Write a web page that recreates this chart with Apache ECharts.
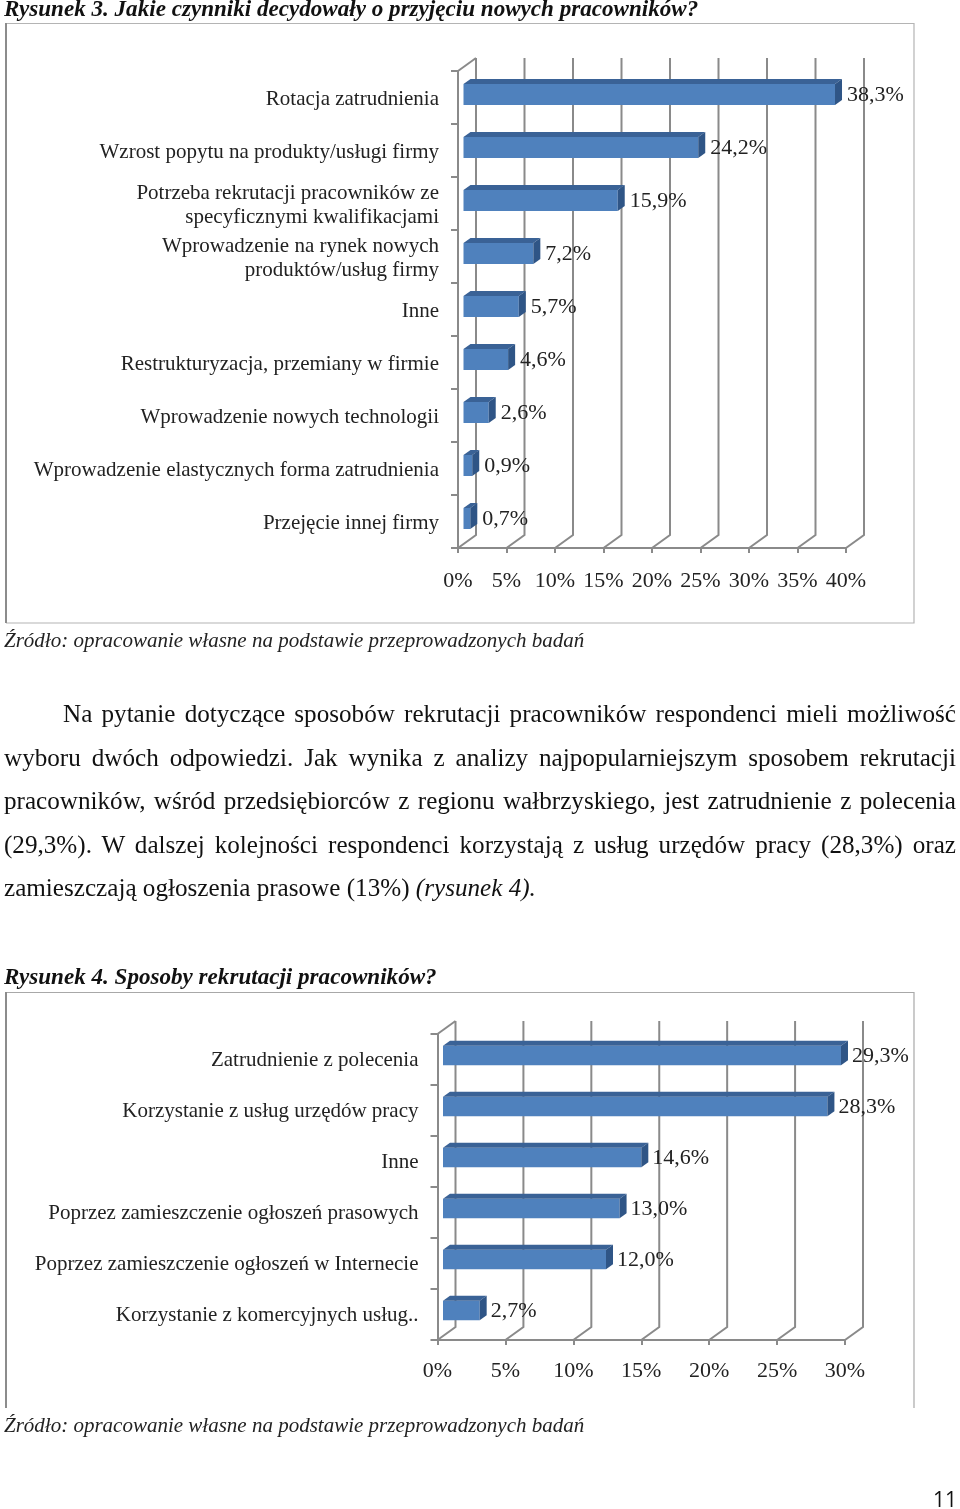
<!DOCTYPE html>
<html lang="pl">
<head>
<meta charset="utf-8">
<script src="https://cdn.jsdelivr.net/npm/echarts@6/dist/echarts.min.js"></script>
<style>
html,body{margin:0;padding:0;background:#fff;}
#chart{position:absolute;left:0;top:0;width:960px;height:1509px;}
.ln{position:absolute;left:4px;width:952px;height:30px;font:25.15px/30px "Liberation Serif",serif;color:#111;text-align:justify;text-align-last:justify;white-space:normal;}
</style>
</head>
<body>
<div id="chart"></div>
<div class="ln" style="top:699px;left:63px;width:893px;">Na pytanie dotyczące sposobów rekrutacji pracowników respondenci mieli możliwość</div>
<div class="ln" style="top:743px;">wyboru dwóch odpowiedzi. Jak wynika z analizy najpopularniejszym sposobem rekrutacji</div>
<div class="ln" style="top:786px;">pracowników, wśród przedsiębiorców z regionu wałbrzyskiego, jest zatrudnienie z polecenia</div>
<div class="ln" style="top:830px;">(29,3%). W dalszej kolejności respondenci korzystają z usług urzędów pracy (28,3%) oraz</div>
<div class="ln" style="top:873px;text-align-last:left;width:auto;white-space:nowrap;">zamieszczają ogłoszenia prasowe (13%) <i>(rysunek 4).</i></div>
<script>
const title1 = 'Rysunek 3. Jakie czynniki decydowały o przyjęciu nowych pracowników?';
const title2 = 'Rysunek 4. Sposoby rekrutacji pracowników?';
const sourceText = 'Źródło: opracowanie własne na podstawie przeprowadzonych badań';
const pageNumber = '11';

const categories1 = ['Rotacja zatrudnienia','Wzrost popytu na produkty/usługi firmy','Potrzeba rekrutacji pracowników ze\nspecyficznymi kwalifikacjami','Wprowadzenie na rynek nowych\nproduktów/usług firmy','Inne','Restrukturyzacja, przemiany w firmie','Wprowadzenie nowych technologii','Wprowadzenie elastycznych forma zatrudnienia','Przejęcie innej firmy'];
const values1 = [38.3,24.2,15.9,7.2,5.7,4.6,2.6,0.9,0.7];
const ticks1 = [0,5,10,15,20,25,30,35,40];

const categories2 = ['Zatrudnienie z polecenia','Korzystanie z usług urzędów pracy','Inne','Poprzez zamieszczenie ogłoszeń prasowych','Poprzez zamieszczenie ogłoszeń w Internecie','Korzystanie z komercyjnych usług..'];
const values2 = [29.3,28.3,14.6,13.0,12.0,2.7];
const ticks2 = [0,5,10,15,20,25,30];

const SERIF = '"Liberation Serif",serif';
const AX = '#8a8a8a', TXT = '#222';
const fmt = v => v.toFixed(1).replace('.', ',') + '%';

function wallItem(params, api) {
  const v = api.value(0);
  const x = api.coord([v, 0])[0];
  const h = params.coordSys;
  const yb = h.y + h.height, yt = h.y;
  const dx = 18, dy = 13;
  const children = [{type:'polyline',shape:{points:[[x, yb],[x+dx, yb-dy],[x+dx, yt-dy]]},style:{stroke:AX,lineWidth:2,fill:null}}];
  if (v === 0) children.push({type:'line',shape:{x1:x,y1:yt,x2:x+dx,y2:yt-dy},style:{stroke:AX,lineWidth:2}});
  return {type:'group',children};
}
function barMaker(oy, hh, labelDx, labelDy) {
  return function (params, api) {
    const v = api.value(0), c = api.value(1);
    const p0 = api.coord([0, c]), p1 = api.coord([v, c]);
    const ox = 5.5, dx = 7, dy = 5;
    const x0 = p0[0] + ox, x1 = p1[0] + ox;
    const yt = p0[1] + oy - hh, yb = p0[1] + oy + hh;
    return {type:'group',children:[
      {type:'rect',shape:{x:x0,y:yt,width:x1-x0,height:yb-yt},style:{fill:'#4f81bd'}},
      {type:'polygon',shape:{points:[[x0,yt],[x0+dx,yt-dy],[x1+dx,yt-dy],[x1,yt]]},style:{fill:'#3a6296'}},
      {type:'polygon',shape:{points:[[x1,yt],[x1+dx,yt-dy],[x1+dx,yb-dy],[x1,yb]]},style:{fill:'#2f5586'}},
      {type:'text',style:{text:fmt(v),x:x1+dx+labelDx,y:p0[1]+labelDy,verticalAlign:'middle',align:'left',font:'22px '+SERIF,fill:TXT}}
    ]};
  };
}
function axes(idx, ticks, cats, xMargin) {
  return {
    x:{gridIndex:idx,type:'value',min:0,max:ticks[ticks.length-1],interval:5,
      axisLine:{show:true,lineStyle:{color:AX,width:2}},axisTick:{show:true,length:5,lineStyle:{color:AX,width:2}},
      splitLine:{show:false},
      axisLabel:{margin:xMargin,formatter:'{value}%',fontFamily:SERIF,fontSize:22,color:TXT,hideOverlap:false,showMinLabel:true,showMaxLabel:true}},
    y:{gridIndex:idx,type:'category',inverse:true,data:cats,
      axisLine:{show:true,lineStyle:{color:AX,width:2}},axisTick:{show:true,length:7,lineStyle:{color:AX,width:2},alignWithLabel:false},
      axisLabel:{show:false}}
  };
}
// Hidden-line companion axes carry the category labels, a touch lower than the band centres.
function labelAxes(idx, cats) {
  return {
    x:{gridIndex:idx,type:'value',min:0,max:10,show:false},
    y:{gridIndex:idx,type:'category',inverse:true,data:cats,
      axisLine:{show:false},axisTick:{show:false},
      axisLabel:{margin:19,interval:0,fontFamily:SERIF,fontSize:21,lineHeight:24,color:TXT,align:'right'}}
  };
}
const a1 = axes(0, ticks1, categories1, 22);
const a2 = axes(1, ticks2, categories2, 20);
const l1 = labelAxes(2, categories1);
const l2 = labelAxes(3, categories2);

function head(text, top, extra) {
  return {text:text,left:4,top:top,padding:0,textStyle:Object.assign({fontFamily:SERIF,color:'#111',fontSize:23.1,fontWeight:'bold',fontStyle:'italic',lineHeight:26},extra||{})};
}
const option = {
  animation:false,
  backgroundColor:'#fff',
  title:[
    head(title1,-3),
    head(sourceText,628,{fontWeight:'normal',fontSize:21,color:'#222'}),
    head(title2,965),
    head(sourceText,1413,{fontWeight:'normal',fontSize:21,color:'#222'}),
    {text:pageNumber,right:3,top:1491,padding:0,textStyle:{fontFamily:'"Open Sans",sans-serif',fontSize:21,fontWeight:'normal',color:'#111'}}
  ],
  grid:[
    {left:458,top:71,width:388,height:477},
    {left:437.5,top:1034,width:407.5,height:306},
    {left:458,top:73,width:388,height:477},
    {left:437.5,top:1035,width:407.5,height:306}
  ],
  xAxis:[a1.x,a2.x,l1.x,l2.x],
  yAxis:[a1.y,a2.y,l1.y,l2.y],
  graphic:[
    {type:'polyline',silent:true,z:-1,shape:{points:[[6,623],[6,23.5],[914,23.5],[914,623],[6,623]]},style:{stroke:'#b4b4b4',lineWidth:1.2,fill:null}},
    {type:'line',silent:true,z:-1,shape:{x1:6,y1:23,x2:6,y2:623},style:{stroke:'#8c8c8c',lineWidth:2}},
    {type:'polyline',silent:true,z:-1,shape:{points:[[6,1408],[6,992.5],[914,992.5],[914,1408]]},style:{stroke:'#a8a8a8',lineWidth:1.2,fill:null}},
    {type:'line',silent:true,z:-1,shape:{x1:6,y1:992,x2:6,y2:1408},style:{stroke:'#8c8c8c',lineWidth:2}}
  ],
  series:[
    {type:'custom',name:'wall1',xAxisIndex:0,yAxisIndex:0,clip:false,silent:true,z:1,renderItem:wallItem,data:ticks1.map(t=>[t,0]),encode:{x:0,y:1}},
    {type:'custom',name:'Rysunek 3',xAxisIndex:0,yAxisIndex:0,clip:false,z:3,renderItem:barMaker(-3,10.5,5,-2),data:values1.map((v,i)=>[v,i]),encode:{x:0,y:1}},
    {type:'custom',name:'wall2',xAxisIndex:1,yAxisIndex:1,clip:false,silent:true,z:1,renderItem:wallItem,data:ticks2.map(t=>[t,0]),encode:{x:0,y:1}},
    {type:'custom',name:'Rysunek 4',xAxisIndex:1,yAxisIndex:1,clip:false,z:3,renderItem:barMaker(-4,9.8,4,-3),data:values2.map((v,i)=>[v,i]),encode:{x:0,y:1}}
  ]
};
echarts.init(document.getElementById('chart')).setOption(option);
</script>
</body>
</html>
